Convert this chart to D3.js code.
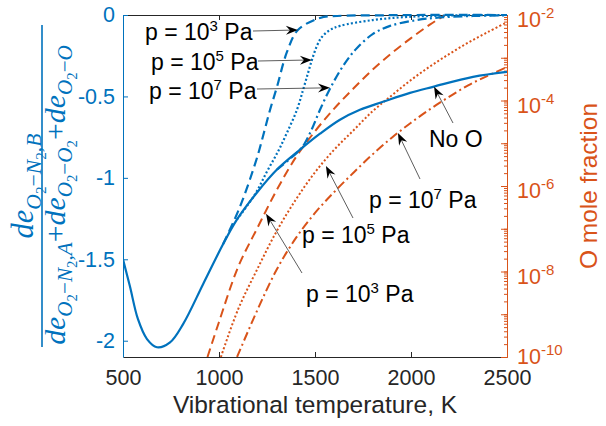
<!DOCTYPE html>
<html>
<head>
<meta charset="utf-8">
<script src="https://cdn.jsdelivr.net/npm/d3@7/dist/d3.min.js"></script>
<style>
  body { margin: 0; background: #fff; }
  svg { display: block; }
</style>
</head>
<body>
<svg id="chart" width="606" height="426"></svg>
<script>
// ---- tick labels ----
const tempTicks = [500, 1000, 1500, 2000, 2500];
const ratioTicks = [0, -0.5, -1, -1.5, -2];
const ratioTickLabels = ["0", "-0.5", "-1", "-1.5", "-2"];
const fracMajorExps = [-2, -4, -6, -8, -10];

// ---- energy-ratio curves (left axis) ----
const noO_T   = [500, 536, 578, 625, 677, 745, 813, 917, 1021, 1094, 1198, 1302, 1422, 1526, 1630, 1734, 1854, 1995, 2115, 2323, 2500];
const noO_val = [-1.50, -1.666, -1.868, -1.99, -2.04, -2.01, -1.898, -1.653, -1.408, -1.255, -1.09, -0.949, -0.827, -0.729, -0.643, -0.582, -0.533, -0.478, -0.441, -0.380, -0.349];

const ratio1e3_T   = [1021, 1083, 1120, 1161, 1203, 1234, 1266, 1302, 1354, 1411, 1526, 1615, 1839, 2000, 2500];
const ratio1e3_val = [-1.408, -1.25, -1.145, -1.010, -0.857, -0.723, -0.582, -0.441, -0.227, -0.092, -0.018, -0.006, -0.002, 0, 0];

const ratio1e5_T   = [1094, 1188, 1250, 1307, 1354, 1406, 1438, 1464, 1484, 1510, 1536, 1578, 1630, 1802, 1979, 2203, 2500];
const ratio1e5_val = [-1.255, -1.10, -0.961, -0.839, -0.723, -0.582, -0.459, -0.355, -0.276, -0.190, -0.135, -0.092, -0.067, -0.031, -0.012, -0.003, 0];

const ratio1e7_T   = [1302, 1422, 1448, 1484, 1526, 1578, 1630, 1672, 1719, 1802, 1891, 2031, 2151, 2323, 2500];
const ratio1e7_val = [-0.949, -0.827, -0.785, -0.70, -0.582, -0.453, -0.343, -0.269, -0.202, -0.116, -0.067, -0.031, -0.015, -0.006, -0.002];

// ---- O mole fraction (right axis), log10 of the fraction ----
const frac1e3_T   = [940, 1000, 1100, 1200, 1300, 1400, 1500, 1600, 1700, 1800, 1900, 2000, 2100, 2200];
const frac1e3_exp = [-10.0, -9.18, -7.89, -6.98, -6.10, -5.33, -4.72, -4.19, -3.72, -3.28, -2.89, -2.54, -2.22, -1.94];

const frac1e5_T   = [1010, 1100, 1200, 1300, 1400, 1500, 1600, 1700, 1800, 1900, 2000, 2100, 2200, 2300, 2400, 2500];
const frac1e5_exp = [-10.0, -8.88, -7.94, -7.06, -6.32, -5.68, -5.15, -4.70, -4.25, -3.88, -3.52, -3.20, -2.91, -2.64, -2.40, -2.17];

const frac1e7_T   = [1094, 1200, 1300, 1400, 1500, 1600, 1700, 1800, 1900, 2000, 2100, 2200, 2300, 2400, 2500];
const frac1e7_exp = [-10.0, -8.90, -7.96, -7.22, -6.63, -6.14, -5.69, -5.26, -4.87, -4.52, -4.20, -3.91, -3.64, -3.42, -3.22];

// ---- colours & layout ----
const BLUE = "#0072BD", ORANGE = "#D95319", INK = "#262626";
const SANS = "'Liberation Sans', Arial, Helvetica, sans-serif";
const SERIF = "'Liberation Serif', 'DejaVu Serif', serif";
const M = { left: 123, right: 507, top: 15, bottom: 357 };

const svg = d3.select("#chart");
const x  = d3.scaleLinear().domain([500, 2500]).range([M.left, M.right]);
const yL = d3.scaleLinear().domain([-2.1, 0]).range([M.bottom, M.top]);
const yR = d3.scaleLog().domain([1e-10, 1e-2]).range([M.bottom, M.top]);

const zip = (a, b) => a.map((t, i) => [t, b[i]]);

// clip regions for the plotted lines
const defs = svg.append("defs");
defs.append("clipPath").attr("id", "clipL").append("rect")
  .attr("x", M.left).attr("y", M.top - 2).attr("width", M.right - M.left).attr("height", M.bottom - M.top + 2);
defs.append("clipPath").attr("id", "clipR").append("rect")
  .attr("x", M.left).attr("y", M.top).attr("width", M.right - M.left).attr("height", M.bottom - M.top);

function styleText(sel, size, color) {
  sel.style("font-family", SANS).style("font-size", size + "px").attr("fill", color);
}

// ---- axes ----
// bottom
const gx = svg.append("g").attr("transform", `translate(0,${M.bottom})`)
  .call(d3.axisBottom(x).tickValues(tempTicks).tickFormat(d3.format("d")).tickSizeInner(-5).tickSizeOuter(0).tickPadding(13));
gx.select(".domain").attr("stroke", INK);
gx.selectAll(".tick line").attr("stroke", INK);
styleText(gx.selectAll(".tick text"), 21.5, INK);

// top
const gt = svg.append("g").attr("transform", `translate(0,${M.top})`)
  .call(d3.axisTop(x).tickValues(tempTicks).tickFormat("").tickSizeInner(-5).tickSizeOuter(0));
gt.select(".domain").attr("stroke", INK);
gt.selectAll(".tick line").attr("stroke", INK);

// left
const gl = svg.append("g").attr("transform", `translate(${M.left},0)`)
  .call(d3.axisLeft(yL).tickValues(ratioTicks).tickFormat((d, i) => ratioTickLabels[i]).tickSizeInner(-5).tickSizeOuter(0).tickPadding(8));
gl.select(".domain").attr("stroke", BLUE);
gl.selectAll(".tick line").attr("stroke", BLUE);
styleText(gl.selectAll(".tick text"), 21.5, BLUE);

// right: minor ticks
const grMinor = svg.append("g").attr("transform", `translate(${M.right},0)`)
  .call(d3.axisRight(yR).tickValues(yR.ticks()).tickFormat("").tickSizeInner(-3).tickSizeOuter(0));
grMinor.select(".domain").attr("stroke", ORANGE);
grMinor.selectAll(".tick line").attr("stroke", ORANGE);

// right: decade ticks
const grMajor = svg.append("g").attr("transform", `translate(${M.right},0)`)
  .call(d3.axisRight(yR).tickValues(d3.range(-10, -1).map(e => Math.pow(10, e))).tickFormat("").tickSizeInner(-6).tickSizeOuter(0));
grMajor.select(".domain").attr("stroke", ORANGE);
grMajor.selectAll(".tick line").attr("stroke", ORANGE);

// right: labels 10^k (the lowest one is nudged up to clear the x tick labels)
const rl = svg.append("g");
fracMajorExps.forEach(e => {
  const yy = yR(Math.pow(10, e));
  const t = rl.append("text").attr("x", M.right + 10).attr("y", yy + (e === -10 ? 7 : 12));
  styleText(t, 21.5, ORANGE);
  t.append("tspan").text("10");
  t.append("tspan").style("font-size", "15px").attr("dy", -9).text(String(e));
});

// ---- curves ----
const smooth = d3.curveCatmullRom.alpha(0.5);
const lineL = d3.line().x(d => x(d[0])).y(d => yL(d[1])).curve(smooth);
const lineR = d3.line().x(d => x(d[0])).y(d => yR(Math.pow(10, d[1]))).curve(smooth);

const curvesR = svg.append("g").attr("clip-path", "url(#clipR)").attr("fill", "none").attr("stroke", ORANGE).attr("stroke-width", 2);
curvesR.append("path").attr("d", lineR(zip(frac1e3_T, frac1e3_exp))).attr("stroke-dasharray", "9,5");
curvesR.append("path").attr("d", lineR(zip(frac1e5_T, frac1e5_exp))).attr("stroke-dasharray", "2,2.2");
curvesR.append("path").attr("d", lineR(zip(frac1e7_T, frac1e7_exp))).attr("stroke-dasharray", "9,3.5,2,3.5");

const curvesL = svg.append("g").attr("clip-path", "url(#clipL)").attr("fill", "none").attr("stroke", BLUE).attr("stroke-width", 2.2);
curvesL.append("path").attr("d", lineL(zip(ratio1e3_T, ratio1e3_val))).attr("stroke-dasharray", "9,5");
curvesL.append("path").attr("d", lineL(zip(ratio1e5_T, ratio1e5_val))).attr("stroke-dasharray", "2,2.2");
curvesL.append("path").attr("d", lineL(zip(ratio1e7_T, ratio1e7_val))).attr("stroke-dasharray", "9,3.5,2,3.5");
curvesL.append("path").attr("d", lineL(zip(noO_T, noO_val)));

// ---- annotations ----
// tip: data point the arrow targets (axis 'L' or 'R'); tail and text in pixels
const notes = [
  { pre: "p = 10", sup: "3", post: " Pa", tx: 145, ty: 40, tail: [253, 31], axis: "L", tip: [1411, -0.092] },
  { pre: "p = 10", sup: "5", post: " Pa", tx: 151, ty: 70, tail: [258, 61], axis: "L", tip: [1484, -0.276] },
  { pre: "p = 10", sup: "7", post: " Pa", tx: 149, ty: 99, tail: [257, 89], axis: "L", tip: [1578, -0.447] },
  { pre: "No O", sup: "", post: "", tx: 429, ty: 147, tail: [453, 123], axis: "L", tip: [2120, -0.441] },
  { pre: "p = 10", sup: "7", post: " Pa", tx: 369, ty: 208, tail: [420, 179], axis: "R", tip: [1932, -4.76] },
  { pre: "p = 10", sup: "5", post: " Pa", tx: 302, ty: 243, tail: [353, 218], axis: "R", tip: [1557, -5.53] },
  { pre: "p = 10", sup: "3", post: " Pa", tx: 306, ty: 302, tail: [302, 273], axis: "R", tip: [1245, -6.65] }
];

const ann = svg.append("g");
notes.forEach(n => {
  const tipX = x(n.tip[0]);
  const tipY = n.axis === "L" ? yL(n.tip[1]) : yR(Math.pow(10, n.tip[1]));
  const ang = Math.atan2(tipY - n.tail[1], tipX - n.tail[0]);
  const back = 8;
  ann.append("line")
    .attr("x1", n.tail[0]).attr("y1", n.tail[1])
    .attr("x2", tipX - back * Math.cos(ang)).attr("y2", tipY - back * Math.sin(ang))
    .attr("stroke", "#333").attr("stroke-width", 0.8);
  ann.append("path")
    .attr("d", "M0,0 L-12,-4.5 L-8,0 L-12,4.5 Z")
    .attr("fill", "#000")
    .attr("transform", `translate(${tipX},${tipY}) rotate(${ang * 180 / Math.PI})`);
  const t = ann.append("text").attr("x", n.tx).attr("y", n.ty);
  styleText(t, 23, "#000");
  t.append("tspan").text(n.pre);
  if (n.sup) {
    t.append("tspan").style("font-size", "15px").attr("dy", -9).text(n.sup);
    t.append("tspan").attr("dy", 9).text(n.post);
  }
});

// ---- axis titles ----
const xt = svg.append("text").attr("x", (M.left + M.right) / 2).attr("y", 413)
  .attr("text-anchor", "middle").text("Vibrational temperature, K");
styleText(xt, 24.5, INK);

const rt = svg.append("text").attr("transform", "translate(597,186) rotate(-90)")
  .attr("text-anchor", "middle").text("O mole fraction");
styleText(rt, 24.5, ORANGE);

// left title: fraction of energy terms
const sizes = [24, 17, 12];
const offs = [0, 6, 10];
function mathText(g, pieces, targetLen) {
  const t = g.append("text").attr("text-anchor", "middle").attr("fill", BLUE)
    .style("font-family", SERIF);
  let lvl = 0;
  pieces.forEach(([s, l, it]) => {
    t.append("tspan")
      .style("font-size", sizes[l] + "px")
      .style("font-style", it ? "italic" : "normal")
      .attr("dy", offs[l] - offs[lvl])
      .text(s);
    lvl = l;
  });
  const len = t.node().getComputedTextLength();
  if (len > 0) g.attr("transform", g.attr("transform") + ` scale(${targetLen / len})`);
}

const ylab = svg.append("g").attr("transform", "translate(42,186) rotate(-90)");
ylab.append("line").attr("x1", -161).attr("x2", 161).attr("y1", 0).attr("y2", 0)
  .attr("stroke", BLUE).attr("stroke-width", 1.6);
const num = ylab.append("g").attr("transform", "translate(0,-9)");
mathText(num, [["de", 0, 1], ["O", 1, 1], ["2", 2, 0], ["\u2212", 1, 0], ["N", 1, 1], ["2", 2, 0], [",", 1, 0], ["B", 1, 1]], 105);
const den = ylab.append("g").attr("transform", "translate(-9,23)");
mathText(den, [
  ["de", 0, 1], ["O", 1, 1], ["2", 2, 0], ["\u2212", 1, 0], ["N", 1, 1], ["2", 2, 0], [",", 1, 0], ["A", 1, 1],
  ["+", 0, 0], ["de", 0, 1], ["O", 1, 1], ["2", 2, 0], ["\u2212", 1, 0], ["O", 1, 1], ["2", 2, 0],
  ["+", 0, 0], ["de", 0, 1], ["O", 1, 1], ["2", 2, 0], ["\u2212", 1, 0], ["O", 1, 1]
], 300);
</script>
</body>
</html>
